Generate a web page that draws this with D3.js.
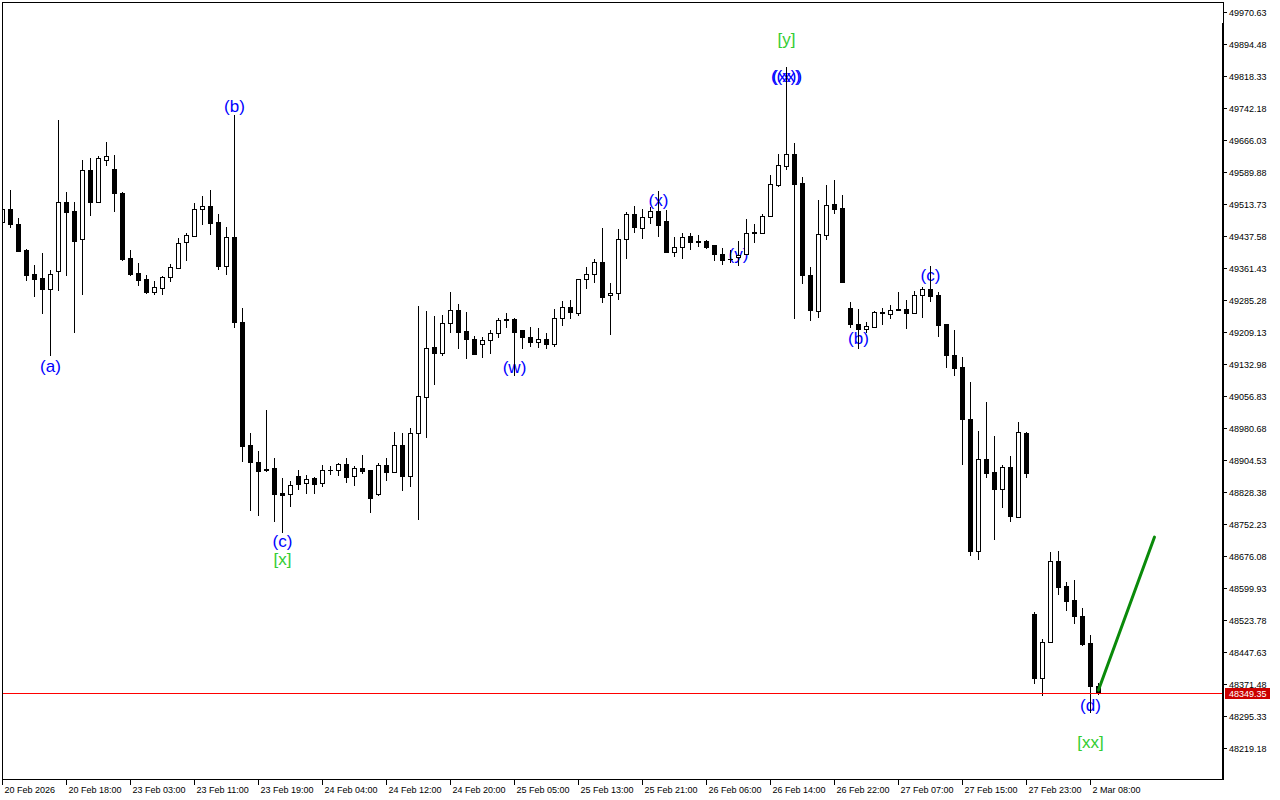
<!DOCTYPE html>
<html><head><meta charset="utf-8">
<script src="https://cdn.jsdelivr.net/npm/d3@7"></script>
<style>body{margin:0;background:#fff}svg{display:block}</style>
</head><body>
<svg id="c" width="1280" height="800"></svg>
<script>
// Hourly candles, bar index 0 = 20 Feb 2026 10:00
const opens = [49470.1,49501.1,49464.7,49403.5,49346.4,49336.9,49311.4,49354.2,49517.0,49496.3,
49429.0,49593.2,49518.5,49617.0,49595.6,49539.2,49383.7,49348.8,49334.5,49304.3,
49313.8,49338.5,49361.4,49421.8,49437.5,49500.4,49508.2,49470.1,49364.7,49435.2,
49232.9,48939.4,48899.7,48882.3,48884.7,48824.4,48822.1,48864.9,48848.2,48860.2,
48848.2,48879.9,48880.6,48893.5,48864.9,48884.0,48879.2,48822.1,48891.1,48875.8,
48938.7,48866.3,48967.2,49052.9,49172.6,49157.6,49229.0,49260.7,49210.7,49191.7,
49179.1,49188.6,49205.2,49237.6,49239.3,49213.1,49195.7,49183.8,49191.7,49179.8,
49241.7,49267.9,49252.8,49333.8,49345.7,49374.2,49295.7,49300.4,49429.0,49488.5,
49455.1,49482.0,49495.6,49471.8,49398.0,49409.9,49436.8,49424.2,49424.2,49414.7,
49394.0,49383.3,49386.8,49394.0,49444.7,49444.7,49483.7,49558.9,49604.1,49631.3,
49563.0,49344.0,49258.3,49438.5,49513.0,49503.5,49265.5,49227.4,49216.2,49221.0,
49254.3,49251.9,49263.1,49263.1,49254.3,49295.7,49310.7,49295.7,49227.4,49153.6,
49124.3,49000.6,48686.4,48906.1,48874.4,48835.4,48886.4,48768.7,48967.2,48537.2,
48385.6,48469.8,48663.3,48603.1,48570.5,48532.4,48468.2,48366.6];
const highs = [49505.8,49546.3,49478.9,49405.9,49367.8,49396.4,49355.9,49712.9,49541.5,49517.7,
49617.7,49622.5,49627.2,49660.5,49629.6,49541.5,49403.5,49372.6,49344.0,49329.7,
49342.3,49370.2,49432.1,49444.7,49515.4,49531.3,49546.3,49489.2,49458.2,49724.8,
49265.5,48968.7,48925.1,49022.7,48909.2,48860.2,48853.0,48879.2,48868.0,48863.3,
48891.8,48888.7,48896.6,48908.5,48890.1,48915.6,48879.2,48895.8,48908.5,48970.3,
48968.0,48979.9,49270.2,49258.3,49246.4,49248.1,49303.5,49275.0,49255.9,49198.1,
49196.4,49213.1,49241.7,49253.6,49241.7,49213.1,49219.5,49217.9,49205.2,49263.1,
49281.4,49284.5,49333.8,49362.3,49382.1,49455.1,49324.2,49453.5,49494.7,49508.2,
49501.1,49506.5,49543.9,49498.7,49433.7,49443.3,49443.3,49438.5,49426.6,49414.7,
49409.0,49403.5,49424.9,49477.3,49466.1,49488.5,49581.3,49632.0,49838.0,49657.4,
49577.2,49363.0,49522.5,49558.2,49570.1,49534.4,49279.0,49263.1,49232.9,49258.3,
49265.5,49272.6,49303.5,49283.8,49305.2,49314.7,49366.1,49302.8,49227.4,49213.1,
49148.1,49089.3,48972.7,49041.7,48960.1,48891.1,48913.2,48994.1,48970.3,48541.9,
48477.7,48684.7,48687.1,48612.6,48618.1,48551.5,48487.2,48373.0];
const lows = [49465.4,49459.0,49401.1,49332.1,49294.0,49254.3,49153.0,49308.3,49344.7,49209.1,
49299.5,49487.5,49518.5,49605.1,49497.0,49380.4,49344.7,49320.2,49300.4,49298.8,
49298.8,49329.7,49359.9,49379.7,49437.5,49466.1,49442.3,49358.3,49347.1,49221.0,
48901.3,48784.7,48772.8,48876.8,48759.2,48732.3,48794.2,48835.4,48824.4,48825.9,
48842.5,48871.1,48868.7,48852.0,48844.2,48873.5,48780.7,48819.7,48856.8,48875.8,
48832.3,48842.5,48762.6,48959.2,49085.3,49154.3,49209.1,49171.0,49147.2,49156.7,
49149.6,49159.1,49197.2,49221.0,49105.3,49171.0,49175.0,49173.4,49171.0,49175.0,
49224.3,49241.7,49248.1,49313.8,49327.3,49280.5,49204.3,49286.2,49383.7,49446.3,
49431.3,49467.8,49436.8,49398.0,49389.9,49385.2,49405.2,49413.7,49409.0,49380.4,
49370.2,49374.9,49368.5,49394.0,49423.2,49443.3,49483.7,49556.5,49597.0,49240.9,
49325.7,49236.2,49244.0,49430.4,49490.8,49328.1,49221.0,49171.0,49207.6,49219.5,
49228.1,49242.9,49260.0,49218.6,49254.3,49244.8,49282.8,49199.5,49125.8,49106.0,
48893.5,48678.3,48668.8,48862.5,48716.9,48792.5,48759.2,48768.7,48864.0,48373.7,
48345.1,48469.8,48584.8,48546.7,48515.8,48463.4,48303.9,48346.8];
const closes = [49501.1,49464.7,49401.8,49344.7,49335.2,49311.4,49346.4,49517.0,49494.7,49425.6,
49593.2,49518.5,49621.7,49626.5,49539.9,49382.1,49347.1,49332.8,49302.8,49314.7,
49338.5,49363.0,49419.4,49439.2,49501.1,49508.2,49467.0,49366.1,49434.4,49231.4,
48937.7,48899.7,48878.2,48880.6,48822.8,48819.7,48843.5,48845.9,48857.8,48847.3,
48879.2,48881.1,48893.5,48864.0,48884.7,48878.2,48814.0,48891.1,48875.8,48938.7,
48866.3,48967.2,49055.3,49169.5,49159.1,49229.0,49260.7,49209.1,49192.4,49156.7,
49188.6,49205.2,49236.9,49238.5,49209.1,49195.7,49183.8,49190.9,49180.5,49242.4,
49267.1,49255.2,49333.8,49345.7,49374.2,49292.4,49301.9,49429.0,49488.5,49458.2,
49481.3,49495.6,49462.3,49398.0,49409.9,49435.2,49423.2,49423.2,49411.4,49393.3,
49380.4,49381.4,49391.6,49443.2,49445.6,49484.4,49559.9,49605.1,49631.3,49561.3,
49344.7,49260.0,49440.9,49510.6,49501.8,49328.1,49228.1,49216.2,49222.6,49255.2,
49255.2,49260.0,49260.0,49254.3,49295.7,49310.7,49294.7,49225.7,49154.3,49123.4,
49000.6,48687.8,48906.1,48873.5,48835.4,48886.4,48771.1,48969.6,48873.5,48385.6,
48469.8,48663.3,48602.2,48568.8,48533.1,48465.8,48366.6,48349.35];

const xTickLabels = ["20 Feb 2026","20 Feb 18:00","23 Feb 03:00","23 Feb 11:00","23 Feb 19:00",
"24 Feb 04:00","24 Feb 12:00","24 Feb 20:00","25 Feb 05:00","25 Feb 13:00","25 Feb 21:00",
"26 Feb 06:00","26 Feb 14:00","26 Feb 22:00","27 Feb 07:00","27 Feb 15:00","27 Feb 23:00","2 Mar 08:00"];
const yTicks = [48219.18,48295.33,48371.48,48447.63,48523.78,48599.93,48676.08,48752.23,48828.38,
48904.53,48980.68,49056.83,49132.98,49209.13,49285.28,49361.43,49437.58,49513.73,49589.88,
49666.03,49742.18,49818.33,49894.48,49970.63];
const currentPrice = 48349.35;

// wave labels: text, bar index, price, colour group
const waveText  = ["(a)","(b)","(c)","[x]","(w)","(x)","(y)","[y]","((x))","(xx)","(b)","(c)","(d)","[xx]"];
const waveBar   = [6,29,35,35,64,82,92,98,98,98,107,116,136,136];
const wavePrice = [49127.4,49746.2,48710.9,48668.1,49125.0,49522.5,49392.0,49903.3,49817.6,49817.6,49194.1,49344.0,48320.6,48232.5];
const waveGreen = [false,false,false,true,false,false,false,true,false,false,false,false,false,true];

// projected trend line (bar index, price)
const trendBars = [137,144];
const trendPrices = [48356.3,48720.4];

const svg = d3.select('#c');
const L = 2, T = 2, R = 1222, B = 779;
const x = d3.scaleLinear().domain([0,152]).range([2.5,1218.5]);
const y = d3.scaleLinear().domain([48144.7,49993.7]).range([779,2]);

svg.append('defs').append('clipPath').attr('id','plot')
  .append('rect').attr('x',L+1).attr('y',T+1).attr('width',R-L-1).attr('height',B-T-1);

const plot = svg.append('g').attr('clip-path','url(#plot)');

const bars = d3.range(opens.length).map(i => ({i, o:opens[i], h:highs[i], l:lows[i], c:closes[i]}));

// wave labels (behind candles)
const lab = plot.append('g');
lab.selectAll('text').data(waveText).join('text')
  .attr('x',(d,i)=>x(waveBar[i]))
  .attr('y',(d,i)=>y(wavePrice[i]))
  .attr('text-anchor','middle')
  .attr('dominant-baseline','central')
  .attr('font-family','"Liberation Sans", Arial, sans-serif')
  .attr('font-size',17)
  .attr('fill',(d,i)=>waveGreen[i] ? '#32cd32' : '#0000ff')
  .text(d=>d);

const g = plot.append('g').attr('shape-rendering','crispEdges');
// wicks
g.selectAll('line.w').data(bars).join('line').attr('class','w')
  .attr('x1',d=>Math.round(x(d.i)-0.5)+0.5).attr('x2',d=>Math.round(x(d.i)-0.5)+0.5)
  .attr('y1',d=>Math.round(y(d.h))).attr('y2',d=>Math.round(y(d.l))+1)
  .attr('stroke','#000').attr('stroke-width',1);
// bodies
bars.forEach(d=>{
  const xc = Math.round(x(d.i)-0.5)+0.5;
  const top = Math.round(y(Math.max(d.o,d.c)));
  const bot = Math.round(y(Math.min(d.o,d.c)));
  if (d.c > d.o && bot-top >= 2) {
    g.append('rect').attr('x',xc-2).attr('y',top+0.5).attr('width',4).attr('height',bot-top)
      .attr('fill','#fff').attr('stroke','#000').attr('stroke-width',1);
  } else {
    g.append('rect').attr('x',xc-2.5).attr('y',top).attr('width',5).attr('height',Math.max(1,bot-top+1))
      .attr('fill','#000');
  }
});

// current price line
const yp = Math.round(y(currentPrice));
svg.append('rect').attr('x',L+1).attr('y',yp).attr('width',R-L-1).attr('height',1)
  .attr('fill','#ff0000').attr('shape-rendering','crispEdges');

// trend line
plot.append('line')
  .attr('x1',x(trendBars[0])).attr('y1',y(trendPrices[0]))
  .attr('x2',x(trendBars[1])).attr('y2',y(trendPrices[1]))
  .attr('stroke','#0a8a0a').attr('stroke-width',3).attr('stroke-linecap','round');

// frame
const fr = svg.append('g').attr('shape-rendering','crispEdges').attr('stroke','#000');
fr.append('line').attr('x1',L+0.5).attr('x2',L+0.5).attr('y1',T).attr('y2',B+1);
fr.append('line').attr('x1',L).attr('x2',R+2).attr('y1',T+0.5).attr('y2',T+0.5);
fr.append('line').attr('x1',L).attr('x2',R+2).attr('y1',B+0.5).attr('y2',B+0.5);
fr.append('line').attr('x1',R+1.5).attr('x2',R+1.5).attr('y1',T).attr('y2',23);
fr.append('rect').attr('x',R).attr('y',23).attr('width',2).attr('height',B-23+1).attr('fill','#000').attr('stroke','none');

// y axis
const ya = svg.append('g').attr('font-family','"Liberation Sans", Arial, sans-serif').attr('font-size',9);
yTicks.forEach(v=>{
  const yy = Math.round(y(v))+0.5;
  ya.append('line').attr('x1',R+2).attr('x2',R+5).attr('y1',yy).attr('y2',yy)
    .attr('stroke','#000').attr('shape-rendering','crispEdges');
  ya.append('text').attr('x',R+7).attr('y',yy).attr('dominant-baseline','central').attr('fill','#000')
    .text(v.toFixed(2));
});
// current price tag
ya.append('rect').attr('x',R+3).attr('y',yp-5).attr('width',45).attr('height',11).attr('fill','#cc0000');
ya.append('text').attr('x',R+7).attr('y',yp+0.5).attr('dominant-baseline','central').attr('fill','#fff')
  .text(currentPrice.toFixed(2));

// x axis
const xa = svg.append('g').attr('font-family','"Liberation Sans", Arial, sans-serif').attr('font-size',9);
xTickLabels.forEach((t,j)=>{
  const xx = Math.round(x(j*8)-0.5)+0.5;
  xa.append('line').attr('x1',xx).attr('x2',xx).attr('y1',B).attr('y2',B+6)
    .attr('stroke','#000').attr('shape-rendering','crispEdges');
  xa.append('text').attr('x',xx+2).attr('y',B+14).attr('fill','#000').text(t);
});
</script>
</body></html>
